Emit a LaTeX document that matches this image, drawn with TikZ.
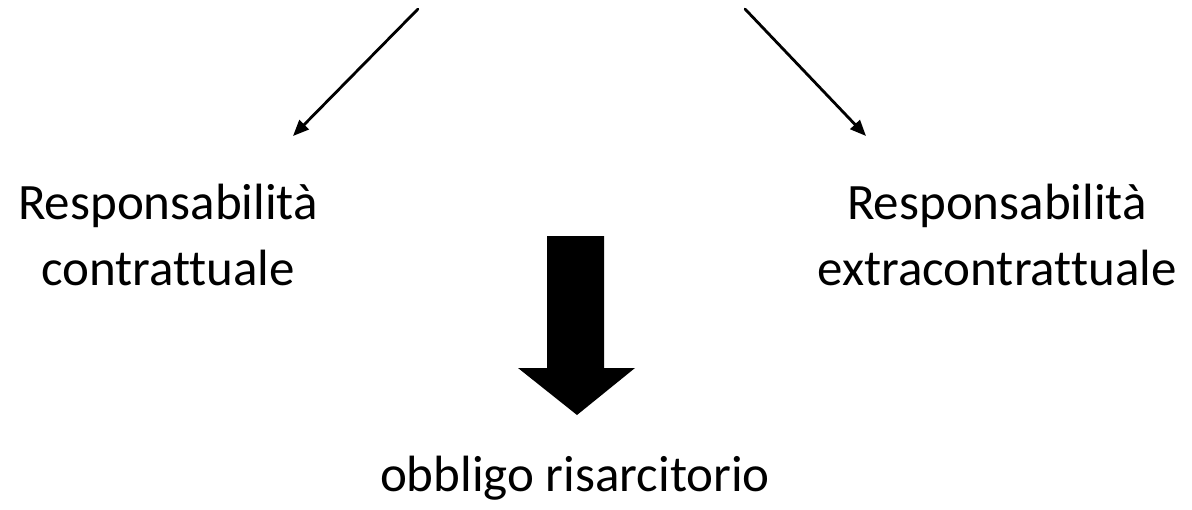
\documentclass[tikz,border=0pt]{standalone}
\usepackage{fontspec}
\setmainfont{Carlito}[Ligatures=NoCommon]
\usetikzlibrary{arrows.meta}
\begin{document}
\begin{tikzpicture}[x=1pt, y=-1pt, line join=round, line cap=round, >={Triangle[length=16pt,width=13pt]},
  font=\fontsize{51}{66}\selectfont]
\useasboundingbox (0,0) rectangle (1192,509);
\tikzset{lbl/.style={align=center, inner sep=0pt, anchor=base}}
\node[lbl] (contr) at (168,285) {Responsabilità\\contrattuale};
\node[lbl] (extra) at (997,285) {Responsabilità\\extracontrattuale};
\node[lbl] (obbl) at (575,491) {obbligo risarcitorio};
\coordinate (l0) at (418,9);  \coordinate (l1) at (293,136);
\coordinate (r0) at (745,9);  \coordinate (r1) at (866,136);
\draw[->, line width=2.8pt] (l0) -- (l1);
\draw[->, line width=2.8pt] (r0) -- (r1);
% freccia grande
\fill (547,236) -- (604,236) -- (604,368) -- (635,368) -- (577,415) -- (518,368) -- (547,368) -- cycle;
\end{tikzpicture}
\end{document}
